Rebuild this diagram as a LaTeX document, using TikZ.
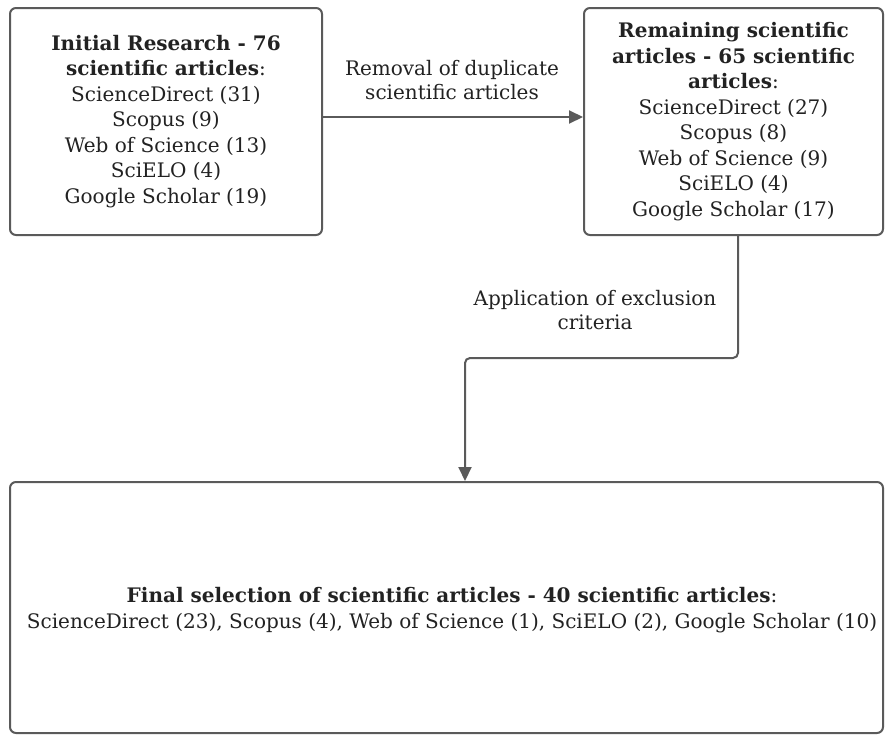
\documentclass[tikz,border=0pt]{standalone}
\usepackage{fontspec}
\setmainfont{DejaVu Serif}
\usetikzlibrary{arrows.meta}
\definecolor{edgegray}{HTML}{5A5A5A}
\definecolor{textgray}{HTML}{222222}
\tikzset{
  box/.style={draw=edgegray, line width=2pt, rounded corners=6pt, fill=white,
    align=center, text=textgray, inner sep=0pt,
    font=\fontsize{20}{25.5}\selectfont},
  lbl/.style={align=center, text=textgray, inner sep=0pt,
    font=\fontsize{20}{24.5}\selectfont}
  ,
  arr/.style={draw=edgegray, line width=2pt,
    -{Triangle[length=14pt,width=13pt]}}
}
\begin{document}
\begin{tikzpicture}[x=1pt,y=-1pt]
\useasboundingbox (0,0) rectangle (885,734);
\fill[white] (0,0) rectangle (885,734);
\node[box, minimum width=312pt, minimum height=227pt] (b1) at (166,121.5)
  {\textbf{Initial Research - 76}\\ \textbf{scientific articles}:\\ ScienceDirect (31)\\ Scopus (9)\\ Web of Science (13)\\ SciELO (4)\\ Google Scholar (19)};
\node[box, minimum width=299pt, minimum height=227pt] (b2) at (733.5,121.5)
  {\textbf{Remaining scientific}\\ \textbf{articles - 65 scientific}\\ \textbf{articles}:\\ ScienceDirect (27)\\ Scopus (8)\\ Web of Science (9)\\ SciELO (4)\\ Google Scholar (17)};
\node[box, minimum width=873pt, minimum height=251pt] (b3) at (446.5,607.5) {};
\node[lbl, font=\fontsize{20}{25.5}\selectfont] (t3) at (452,610)
  {\textbf{Final selection of scientific articles - 40 scientific articles}:\\ ScienceDirect (23), Scopus (4), Web of Science (1), SciELO (2), Google Scholar (10)};
\node[lbl] (l1) at (452,80) {Removal of duplicate\\ scientific articles};
\node[lbl] (l2) at (595,310) {Application of exclusion\\ criteria};
\coordinate (bend) at (465,358);
\draw[arr] ([yshift=4.5pt]b1.east) -- ([yshift=4.5pt]b2.west);
\draw[arr, rounded corners=5pt] ([xshift=4.5pt]b2.south) |- (bend) -- (bend |- b3.north);
\end{tikzpicture}
\end{document}
